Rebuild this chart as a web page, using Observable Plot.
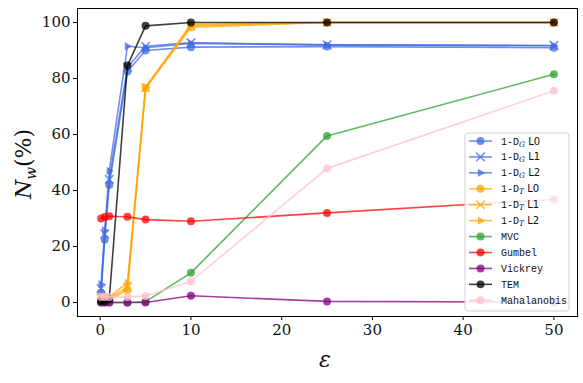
<!DOCTYPE html>
<html><head><meta charset="utf-8">
<script src="https://cdn.jsdelivr.net/npm/d3@7"></script>
<script src="https://cdn.jsdelivr.net/npm/@observablehq/plot@0.6"></script>
<style>
body{margin:0;background:#fff;}
#chart{position:relative;width:583px;height:383px;}
</style>
</head><body><div id="chart"></div>
<script>
const epsilons = [0.1, 0.5, 1, 3, 5, 10, 25, 50];
const seriesNames = ["1-DG L0","1-DG L1","1-DG L2","1-DT L0","1-DT L1","1-DT L2","MVC","Gumbel","Vickrey","TEM","Mahalanobis"];
const dgL0 = [3.5, 22.5, 42, 82.5, 90, 91.2, 91.4, 91];
const dgL1 = [5, 24.5, 44, 84, 91.5, 92.8, 92, 91.8];
const dgL2 = [6.5, 25.7, 47, 91.5, 91, 92.5, 92, 91.7];
const dtL0 = [1, 1, 1, 4.5, 76.5, 98.3, 100, 100];
const dtL1 = [1.5, 1.5, 1.5, 5.5, 76.7, 98.8, 100, 100];
const dtL2 = [2, 2, 2, 7, 77, 99.3, 100, 100];
const mvc = [0, 0, 0, 0, 0.3, 10.6, 59.5, 81.5];
const gumbel = [30, 30.5, 30.8, 30.6, 29.6, 29, 32, 36.8];
const vickrey = [0, 0, 0, 0, 0, 2.4, 0.4, 0.1];
const tem = [0.5, 0.5, 1.2, 84.6, 98.8, 100, 100, 100];
const mahalanobis = [2, 2, 2, 2, 2.3, 7.5, 47.9, 75.6];
const yTicks = [0, 20, 40, 60, 80, 100];
const xTicks = [0, 10, 20, 30, 40, 50];

const seriesValues = [dgL0, dgL1, dgL2, dtL0, dtL1, dtL2, mvc, gumbel, vickrey, tem, mahalanobis];
const seriesColors = ["royalblue","royalblue","royalblue","orange","orange","orange","#2ca02c","red","purple","black","pink"];
const seriesMarkers = ["circle","times","triangle","circle","times","triangle","circle","circle","circle","circle","circle"];
const legendMain = ["1-D","1-D","1-D","1-D","1-D","1-D","MVC","Gumbel","Vickrey","TEM","Mahalanobis"];
const legendSub = ["G","G","G","T","T","T","","","","",""];
const legendTail = [" L0"," L1"," L2"," L0"," L1"," L2","","","","",""];
const ALPHA = 0.75;

const triRight = {
  draw(ctx, size) {
    const s = Math.sqrt(size) * 0.62;
    ctx.moveTo(s * 1.05, 0);
    ctx.lineTo(-s * 0.6, -s * 0.95);
    ctx.lineTo(-s * 0.6, s * 0.95);
    ctx.closePath();
  }
};

const rows = [];
seriesNames.forEach((name, i) => {
  seriesValues[i].forEach((v, j) => rows.push({series: name, idx: i, x: epsilons[j], y: v}));
});

const marks = [];
seriesNames.forEach((name, i) => {
  const data = rows.filter(r => r.series === name);
  const c = seriesColors[i];
  marks.push(Plot.line(data, {x: "x", y: "y", stroke: c, strokeWidth: 1.6, strokeOpacity: ALPHA}));
  const m = seriesMarkers[i];
  if (m === "times") {
    marks.push(Plot.dot(data, {x: "x", y: "y", symbol: "times", r: 4, stroke: c, strokeWidth: 1.5, strokeOpacity: ALPHA}));
  } else {
    marks.push(Plot.dot(data, {x: "x", y: "y", symbol: m === "triangle" ? triRight : "circle", r: 4, fill: c, fillOpacity: ALPHA, stroke: "none"}));
  }
});

const plot = Plot.plot({
  width: 583, height: 383,
  marginLeft: 77, marginRight: 6, marginTop: 8, marginBottom: 67,
  style: {fontFamily: "DejaVu Serif", background: "#fff", overflow: "visible"},
  x: {domain: [-2.5, 52.6], ticks: xTicks},
  y: {domain: [-5, 105], ticks: yTicks},
  marks: [
    ...marks,
    Plot.frame({stroke: "black", strokeWidth: 1}),
    Plot.axisX({ticks: xTicks, tickSize: 4, tickPadding: 4, fontSize: 15, label: null, stroke: "black"}),
    Plot.axisY({ticks: yTicks, tickSize: 4, tickPadding: 3, fontSize: 15, label: null, stroke: "black"})
  ]
});
document.getElementById("chart").appendChild(plot);

const svg = d3.select(plot);
svg.selectAll("[aria-label='x-axis tick label'] text, [aria-label='y-axis tick label'] text").attr("fill", "#111");

// axis titles
const yl = svg.append("text")
  .attr("transform", "translate(31,164) rotate(-90)")
  .attr("text-anchor", "middle")
  .attr("font-family", "DejaVu Serif").attr("font-size", 22).attr("fill", "#111");
yl.append("tspan").attr("font-style", "italic").text("N");
yl.append("tspan").attr("font-style", "italic").attr("font-size", 15).attr("dy", 5).text("w");
yl.append("tspan").attr("dy", -5).text("(%)");

svg.append("text")
  .attr("x", 325).attr("y", 367)
  .attr("text-anchor", "middle")
  .attr("font-family", "DejaVu Serif").attr("font-style", "italic").attr("font-size", 22).attr("fill", "#111")
  .text("ε");

// legend
const lg = svg.append("g").attr("transform", "translate(465,133)").attr("text-anchor", "start");
lg.append("rect").attr("width", 104).attr("height", 178).attr("rx", 3)
  .attr("fill", "white").attr("fill-opacity", 0.85).attr("stroke", "#d0d0d0");
seriesNames.forEach((name, i) => {
  const yy = 8 + i * 15.93;
  const c = seriesColors[i];
  const g = lg.append("g").attr("transform", `translate(0,${yy})`);
  g.append("line").attr("x1", 4).attr("x2", 27).attr("y1", 0).attr("y2", 0)
    .attr("stroke", c).attr("stroke-width", 1.6).attr("stroke-opacity", ALPHA);
  const m = seriesMarkers[i];
  if (m === "times") {
    g.append("path").attr("transform", "translate(15.5,0)").attr("d", d3.symbol(d3.symbolTimes, 50)())
      .attr("stroke", c).attr("stroke-width", 1.5).attr("stroke-opacity", ALPHA).attr("fill", "none");
  } else {
    g.append("path").attr("transform", "translate(15.5,0)")
      .attr("d", d3.symbol(m === "triangle" ? triRight : d3.symbolCircle, 50)())
      .attr("fill", c).attr("fill-opacity", ALPHA);
  }
  const t = g.append("text").attr("x", 36).attr("y", 3.5).attr("text-anchor", "start")
    .attr("font-family", "Liberation Mono").attr("font-size", 10).attr("fill", "#111");
  t.append("tspan").text(legendMain[i]);
  if (legendSub[i]) {
    t.append("tspan").attr("font-family", "DejaVu Serif").attr("font-style", "italic").attr("font-size", 7.5).attr("dy", 2).text(legendSub[i]);
    t.append("tspan").attr("dy", -2).attr("font-family", "DejaVu Sans").attr("font-size", 10).text(legendTail[i]);
  }
});
</script>
</body></html>
